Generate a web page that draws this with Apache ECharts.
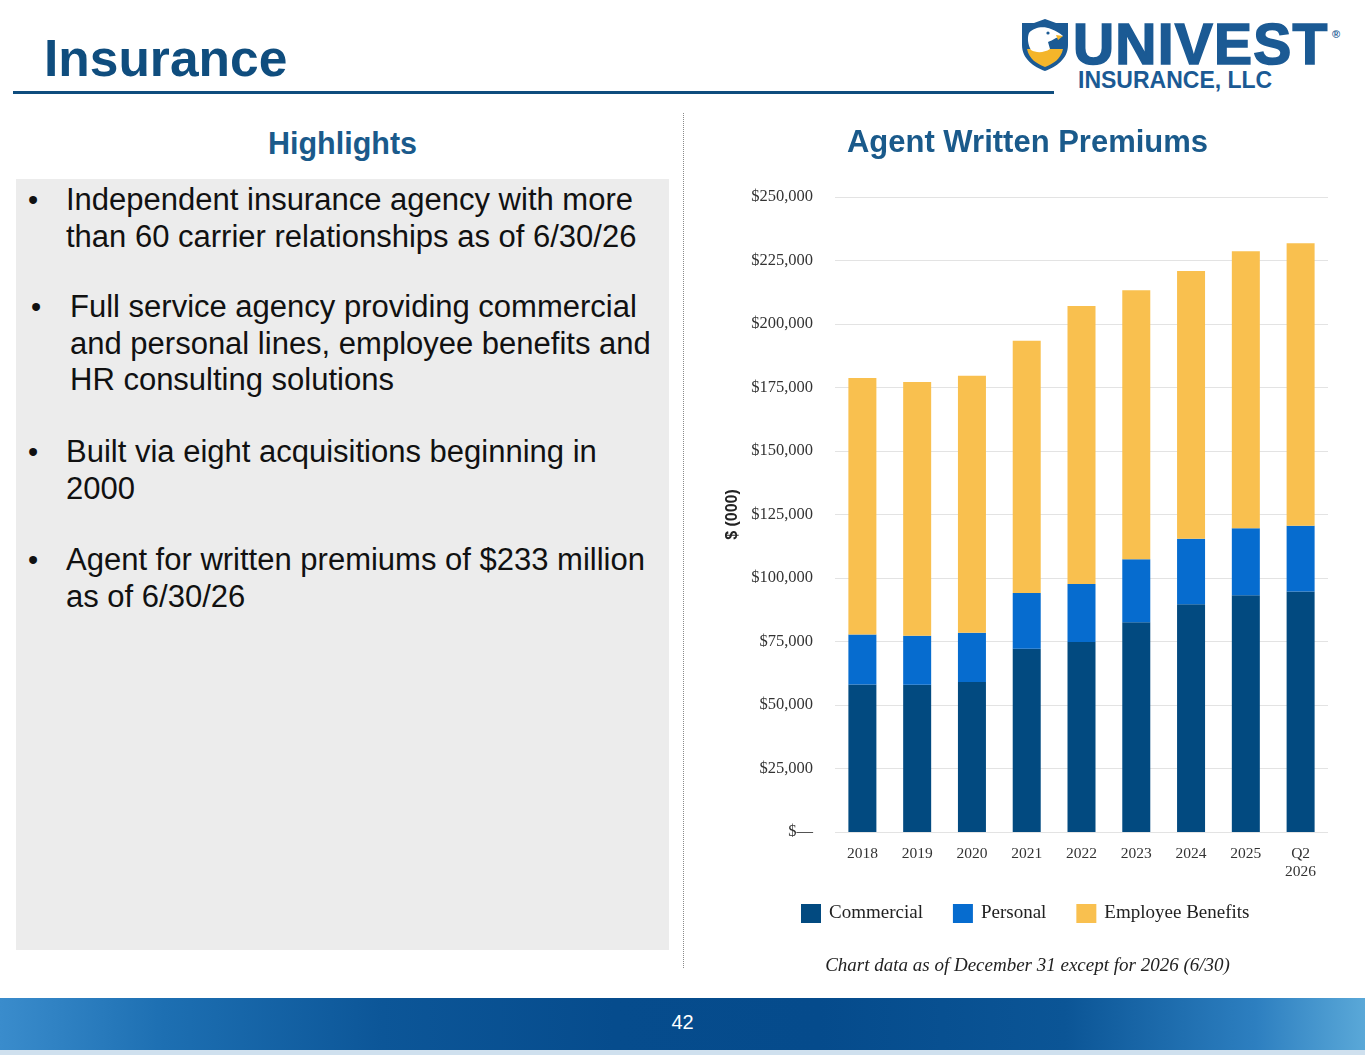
<!DOCTYPE html>
<html>
<head>
<meta charset="utf-8">
<title>Insurance</title>
<script src="https://cdn.jsdelivr.net/npm/echarts@6/dist/echarts.min.js"></script>
<style>
  html, body { margin:0; padding:0; background:#fff; }
  body { width:1365px; height:1055px; position:relative; overflow:hidden; font-family:"Liberation Sans", Arial, sans-serif; }
  .title { position:absolute; left:44px; top:28px; font-size:51.5px; font-weight:bold; color:#0f4d7e; line-height:60px; }
  .rule { position:absolute; left:13px; top:91px; width:1041px; height:3px; background:#0f4d7e; }
  .logo-word { position:absolute; left:1073px; top:13px; font-size:57px; font-weight:bold; color:#1b5a94; -webkit-text-stroke:1.6px #1b5a94; line-height:62px; letter-spacing:1.2px; }
  .logo-r { position:absolute; left:1332px; top:28px; font-size:11px; color:#1b5a94; font-weight:bold; }
  .logo-sub { position:absolute; left:1078px; top:68px; font-size:23px; font-weight:bold; color:#1b5a94; line-height:24px; }
  .shield { position:absolute; left:1020px; top:19px; }
  .hl { position:absolute; left:16px; width:653px; top:124px; text-align:center; font-size:30.5px; font-weight:bold; color:#1a5a8b; line-height:38px; }
  .panel { position:absolute; left:16px; top:179px; width:653px; height:771px; background:#ececec; }
  .b { position:absolute; font-size:31px; color:#111; line-height:36.5px; white-space:nowrap; }
  .dot { position:absolute; font-size:29px; color:#111; line-height:36px; }
  .sep { position:absolute; left:683px; top:113px; height:855px; border-left:1px dotted #8a8a8a; }
  #chart { position:absolute; left:690px; top:100px; width:675px; height:895px; }
  .footer { position:absolute; left:0; top:998px; width:1365px; height:52px;
    background:linear-gradient(90deg,#3a8ccc 0%,#1d6fb2 12%,#0c5698 28%,#064c8d 45%,#054b8c 60%,#0b5596 78%,#2d7fc0 92%,#5aa8d8 100%); }
  .footer2 { position:absolute; left:0; top:1050px; width:1365px; height:5px; background:#cfe0ee; }
  .page { position:absolute; left:0; width:1365px; top:1008px; text-align:center; color:#fff; font-size:20px; line-height:28px; }
</style>
</head>
<body>
<div class="title">Insurance</div>
<div class="rule"></div>

<svg class="shield" width="50" height="52" viewBox="0 0 50 52">
  <path d="M2 4 L14 4 L25 0 L36 4 L48 4 L48 26 C48 40 36 48 25 52 C14 48 2 40 2 26 Z" fill="#1b5a94"/>
  <path d="M7 30 L43 30 C41 40 33 45 25 48 C17 45 9 40 7 30 Z" fill="#f4b52a"/>
  <path d="M9 14 C14 8 24 7 31 10 C36 12 40 14 43 17 L36 19 C33 21 30 22 28 23 L30 30 C24 34 16 34 11 31 C8 26 7 19 9 14 Z" fill="#ffffff"/>
  <circle cx="28" cy="14" r="1.6" fill="#1b5a94"/>
  <path d="M36 16 L43 17 L38 21 Z" fill="#f4b52a"/>
</svg>
<div class="logo-word">UNIVEST</div>
<div class="logo-r">®</div>
<div class="logo-sub">INSURANCE, LLC</div>

<div class="hl">Highlights</div>
<div class="panel"></div>

<div class="dot" style="left:28px;top:182px;">•</div>
<div class="b" style="left:66px;top:182px;">Independent insurance agency with more<br>than 60 carrier relationships as of 6/30/26</div>

<div class="dot" style="left:31px;top:289px;">•</div>
<div class="b" style="left:70px;top:289px;">Full service agency providing commercial<br>and personal lines, employee benefits and<br>HR consulting solutions</div>

<div class="dot" style="left:28px;top:434px;">•</div>
<div class="b" style="left:66px;top:434px;">Built via eight acquisitions beginning in<br>2000</div>

<div class="dot" style="left:28px;top:542px;">•</div>
<div class="b" style="left:66px;top:542px;">Agent for written premiums of $233 million<br>as of 6/30/26</div>

<div class="sep"></div>
<div id="chart"></div>

<div class="footer"></div>
<div class="footer2"></div>
<div class="page">42</div>

<script>
// categories and values, $ (000)
const years = ['2018', '2019', '2020', '2021', '2022', '2023', '2024', '2025', 'Q2\n2026']
const commercial = [58100, 58000, 59100, 72100, 74800, 82600, 89700, 93200, 94700]
const personal = [19700, 19300, 19300, 22000, 22800, 24800, 25800, 26400, 25900]
const employeeBenefits = [100900, 99900, 101200, 99300, 109500, 105900, 105400, 109000, 111200]
const yTickLabels = ['$—', '$25,000', '$50,000', '$75,000', '$100,000', '$125,000', '$150,000', '$175,000', '$200,000', '$225,000', '$250,000']
const seriesNames = ['Commercial', 'Personal', 'Employee Benefits']
const seriesColors = ['#024a80', '#066ccf', '#f9c04f']

let box = document.querySelector('#chart')
let myChart = echarts.init(box)

const serif = '"Liberation Serif", "Times New Roman", serif'

let option = {
    animation: false,
    color: seriesColors,
    grid: {
        left: 145,
        right: 37,
        top: 97,
        bottom: 163,
        containLabel: false
    },
    legend: {
        left: 111,
        top: 804,
        itemWidth: 20,
        itemHeight: 19,
        itemGap: 30,
        icon: 'rect',
        padding: 0,
        data: seriesNames,
        textStyle: {
            fontFamily: serif,
            fontSize: 19,
            color: '#222',
            padding: [0, 0, 0, 3]
        }
    },
    graphic: [
        {
            type: 'text',
            left: 'center',
            top: 28,
            style: {
                text: 'Agent Written Premiums',
                fontFamily: '"Liberation Sans", Arial, sans-serif',
                fontWeight: 'bold',
                fontSize: 31,
                fill: '#1a5a8b'
            }
        },
        {
            type: 'text',
            left: 'center',
            top: 856,
            style: {
                text: 'Chart data as of December 31 except for 2026 (6/30)',
                fontFamily: serif,
                fontStyle: 'italic',
                fontSize: 19,
                fill: '#222'
            }
        }
    ],
    xAxis: {
        type: 'category',
        data: years,
        axisLine: { show: false },
        axisTick: { show: false },
        axisLabel: {
            margin: 13,
            fontFamily: serif,
            fontSize: 15.5,
            lineHeight: 18,
            color: '#333'
        }
    },
    yAxis: {
        type: 'value',
        min: 0,
        max: 250000,
        interval: 25000,
        name: '$ (000)',
        nameLocation: 'middle',
        nameGap: 92,
        nameTextStyle: {
            fontFamily: '"Liberation Sans", Arial, sans-serif',
            fontWeight: 'bold',
            fontSize: 16,
            color: '#222'
        },
        axisLine: { show: false },
        axisTick: { show: false },
        axisLabel: {
            margin: 22,
            fontFamily: serif,
            fontSize: 16.5,
            color: '#333',
            formatter: function (v) {
                return yTickLabels[Math.round(v / 25000)]
            }
        },
        splitLine: {
            lineStyle: { color: '#e3e3e3', width: 1 }
        }
    },
    series: [
        { name: seriesNames[0], type: 'bar', stack: 'total', data: commercial, barWidth: 28 },
        { name: seriesNames[1], type: 'bar', stack: 'total', data: personal, barWidth: 28 },
        { name: seriesNames[2], type: 'bar', stack: 'total', data: employeeBenefits, barWidth: 28 }
    ]
}
myChart.setOption(option)
</script>
</body>
</html>
